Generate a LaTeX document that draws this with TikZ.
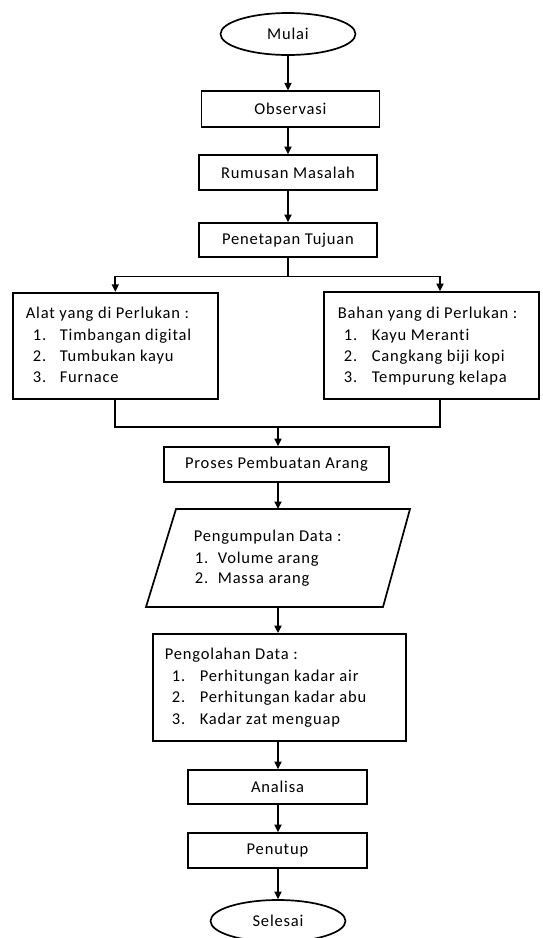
\documentclass[tikz,border=0pt]{standalone}
\usepackage{fontspec}
\setmainfont{Carlito}[LetterSpace=5, Ligatures={NoCommon}]
\usetikzlibrary{arrows.meta,shapes.geometric}
\begin{document}
\begin{tikzpicture}[x=1pt,y=-1pt,
  font=\fontsize{16.5}{21.5}\selectfont,
  line width=1.7pt,
  box/.style={draw, rectangle, inner sep=0pt},
  term/.style={draw, ellipse, inner sep=0pt, minimum width=135pt, minimum height=42pt},
  arr/.style={-{Triangle[length=7.5pt,width=7pt]}},
  lbl/.style={anchor=base west, inner sep=0pt}]
\path[use as bounding box, clip] (0,0) rectangle (542,938);

% nodes
\node[term] (mulai) at (288,34) {Mulai};
\node[box, minimum width=178pt, minimum height=35.5pt] (obs) at (290.5,109) {Observasi};
\node[box, minimum width=178pt, minimum height=35pt] (rum) at (288,172.5) {Rumusan Masalah};
\node[box, minimum width=178pt, minimum height=34pt] (tuj) at (288,240) {Penetapan Tujuan};
\node[box, minimum width=205.3pt, minimum height=106.3pt] (alat) at (115.3,345.8) {};
\node[box, minimum width=215pt, minimum height=107pt] (bahan) at (431.5,345.5) {};
\node[box, minimum width=225pt, minimum height=35pt] (proses) at (276.5,464.5) {Proses Pembuatan Arang};
\node[rectangle, inner sep=0pt, outer sep=0pt, minimum width=264pt, minimum height=98pt] (data) at (278,558) {};
\draw ([xshift=30pt]data.north west) -- (data.north east) -- ([xshift=-27pt]data.south east) -- (data.south west) -- cycle;
\node[box, minimum width=253.3pt, minimum height=106.7pt] (olah) at (279.3,687.3) {};
\node[box, minimum width=179pt, minimum height=34pt] (analisa) at (277.5,787) {Analisa};
\node[box, minimum width=179pt, minimum height=35pt] (penutup) at (277.5,850.5) {Penutup};
\node[term] (selesai) at (278,921) {Selesai};

% list texts
\node[lbl] (a0) at (25,318) {Alat yang di Perlukan :};
\node[lbl] (a1) at (32,340) {\makebox[27pt][l]{1.}Timbangan digital};
\node[lbl] (a2) at (32,361) {\makebox[27pt][l]{2.}Tumbukan kayu};
\node[lbl] (a3) at (32,382.5) {\makebox[27pt][l]{3.}Furnace};

\node[lbl] (b0) at (337,318) {Bahan yang di Perlukan :};
\node[lbl] (b1) at (343,340) {\makebox[28pt][l]{1.}Kayu Meranti};
\node[lbl] (b2) at (343,361) {\makebox[28pt][l]{2.}Cangkang biji kopi};
\node[lbl] (b3) at (343,382.5) {\makebox[28pt][l]{3.}Tempurung kelapa};

\node[lbl] (d0) at (193,541) {Pengumpulan Data :};
\node[lbl] (d1) at (194,563) {\makebox[23pt][l]{1.}Volume arang};
\node[lbl] (d2) at (194,583.5) {\makebox[23pt][l]{2.}Massa arang};

\node[lbl] (o0) at (164,659.5) {Pengolahan Data :};
\node[lbl] (o1) at (171,681) {\makebox[28pt][l]{1.}Perhitungan kadar air};
\node[lbl] (o2) at (171,702.5) {\makebox[28pt][l]{2.}Perhitungan kadar abu};
\node[lbl] (o3) at (171,724) {\makebox[28pt][l]{3.}Kadar zat menguap};

% connectors
\draw[arr] (mulai.south) -- (mulai.south |- obs.north);
\draw[arr] (rum.north |- obs.south) -- (rum.north);
\draw[arr] (rum.south) -- (tuj.north);
\path (tuj.south) ++(0,18.7) coordinate (split);
\draw (tuj.south) -- (split);
\draw[arr] (split) -| (alat.north);
\draw[arr] (split) -| ([xshift=8.5pt]bahan.north);
\path (alat.south) ++(0,27) coordinate (merge);
\draw (alat.south) -- (merge) -| ([xshift=8.5pt]bahan.south);
\draw[arr] ([xshift=1.5pt]proses.north |- merge) -- ([xshift=1.5pt]proses.north);
\draw[arr] (data.north |- proses.south) -- (data.north);
\draw[arr] (data.south) -- (data.south |- olah.north);
\draw[arr] (data.south |- olah.south) -- (data.south |- analisa.north);
\draw[arr] (data.south |- analisa.south) -- (data.south |- penutup.north);
\draw[arr] (data.south |- penutup.south) -- (data.south |- selesai.north);
\end{tikzpicture}
\end{document}
